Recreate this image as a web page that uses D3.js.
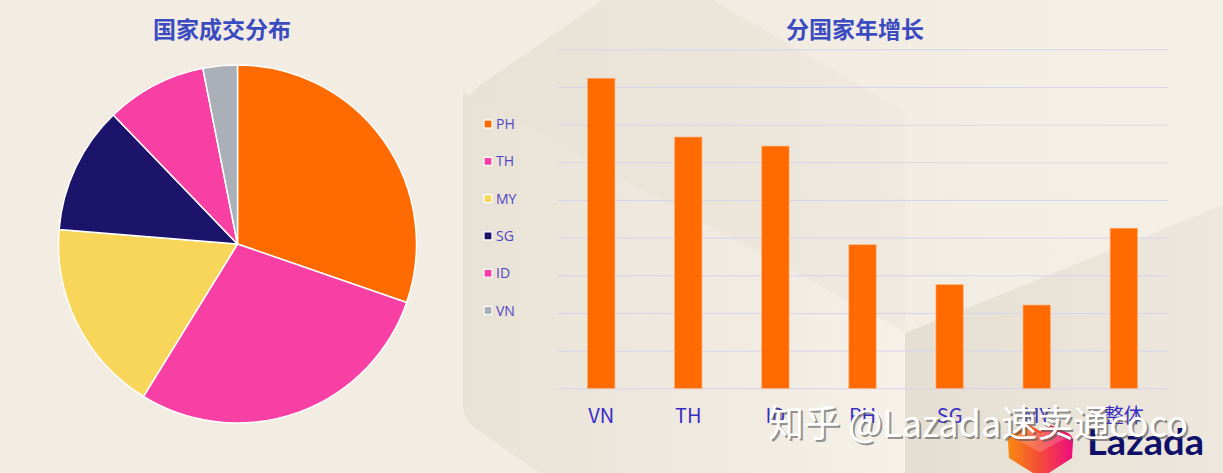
<!DOCTYPE html>
<html>
<head>
<meta charset="utf-8">
<script src="https://cdn.jsdelivr.net/npm/d3@7"></script>
<style>
  html, body { margin: 0; padding: 0; background: #f2ece2; }
  svg { display: block; }
</style>
</head>
<body>
<svg id="chart" width="1223" height="473"></svg>
<script>
// ---------- DATA ----------
const pieCategories = ["PH", "TH", "MY", "SG", "ID", "VN"];
const pieValues = [30.3, 28.5, 17.5, 11.5, 9.1, 3.1];
const pieColors = ["#ff6b00", "#f83fa4", "#f8d65a", "#1c146b", "#f83fa4", "#aab0b8"];

const barCategories = ["VN", "TH", "ID", "PH", "SG", "MY", "整体"];
const barValues = [82.3, 66.7, 64.3, 38.1, 27.5, 22.1, 42.5];
const gridTicks = [0, 10, 20, 30, 40, 50, 60, 70, 80, 90];

const pieTitle = "国家成交分布";
const barTitle = "分国家年增长";
const watermark = "知乎 @Lazada速卖通coco";
const logoText = "Lazada";

// ---------- SETUP ----------
const svg = d3.select("#chart");
const W = 1223, H = 473;
const defs = svg.append("defs");

svg.append("rect").attr("width", W).attr("height", H).attr("fill", "#f2ece2");

function grad(id, stops) {
  const g = defs.append("linearGradient").attr("id", id)
    .attr("gradientUnits", "userSpaceOnUse")
    .attr("x1", stops.x1).attr("x2", stops.x2).attr("y1", 0).attr("y2", 0);
  stops.s.forEach(s => g.append("stop").attr("offset", s[0]).attr("stop-color", s[1]));
}
grad("topGrad", { x1: 700, x2: 1223, s: [[0, "#f1ebe1"], [1, "#f5f0e7"]] });
grad("hexGrad", { x1: 463, x2: 905, s: [[0, "#e8e2d6"], [0.6, "#ebe5da"], [1, "#efe9df"]] });
grad("lightGrad", { x1: 463, x2: 905, s: [[0, "#e8e2d6"], [0.45, "#eee8de"], [1, "#f6f1e8"]] });
grad("rightGrad", { x1: 905, x2: 1223, s: [[0, "#e5dfd3"], [1, "#ede7dd"]] });

svg.append("rect").attr("x", 700).attr("y", 0).attr("width", 523).attr("height", 473).attr("fill", "url(#topGrad)");

// hexagon (darker)
svg.append("path")
  .attr("d", "M463,118 Q463,96 482,84 L603,0 L713,0 L905,112 L905,473 L540,473 L478,430 Q463,420 463,405 Z")
  .attr("fill", "url(#hexGrad)");
// lighter band in hexagon
svg.append("path")
  .attr("d", "M463,92 L905,332 L905,473 L540,473 L478,430 Q463,420 463,405 Z")
  .attr("fill", "url(#lightGrad)");
// darker lower-right
svg.append("path")
  .attr("d", "M905,333 L1223,205 L1223,473 L905,473 Z")
  .attr("fill", "url(#rightGrad)");

// ---------- PIE ----------
const cx = 237.5, cy = 244, R = 179;
const pie = d3.pie().sort(null).value(d => d)(pieValues);
const arc = d3.arc().innerRadius(0).outerRadius(R);
svg.append("g").attr("transform", `translate(${cx},${cy})`)
  .selectAll("path").data(pie).join("path")
  .attr("d", arc)
  .attr("fill", (d, i) => pieColors[i])
  .attr("stroke", "#ffffff")
  .attr("stroke-width", 1.5)
  .attr("stroke-linejoin", "round");

svg.append("text").attr("x", 222).attr("y", 38)
  .attr("text-anchor", "middle")
  .attr("font-family", "'Noto Sans CJK SC', sans-serif")
  .attr("font-weight", 700).attr("font-size", 23)
  .attr("fill", "#3a4bc1")
  .text(pieTitle);

// ---------- BAR ----------
const x = d3.scaleBand().domain(barCategories).range([557.3, 1167.7]).paddingInner(0.687).paddingOuter(0.348);
const y = d3.scaleLinear().domain([0, 90]).range([388.3, 49.3]);

const grid = svg.append("g").attr("transform", "translate(557.3,0)")
  .call(d3.axisLeft(y).tickValues(gridTicks).tickSize(-610.4).tickFormat(""));
grid.select(".domain").remove();
grid.selectAll(".tick line").attr("stroke", "#d7d3ea").attr("stroke-width", 1);

svg.append("g").selectAll("rect").data(barValues).join("rect")
  .attr("x", (d, i) => x(barCategories[i]))
  .attr("y", d => y(d))
  .attr("width", x.bandwidth())
  .attr("height", d => y(0) - y(d))
  .attr("fill", "#ff6b00")
  .attr("stroke", "#ffa866")
  .attr("stroke-width", 0.6);

const xa = svg.append("g").attr("transform", "translate(0,388.3)")
  .call(d3.axisBottom(x).tickSize(0).tickPadding(0));
xa.select(".domain").remove();
xa.selectAll(".tick text")
  .attr("y", 35).attr("dy", 0)
  .attr("font-family", "'Liberation Sans Narrow', 'Noto Sans CJK SC', sans-serif")
  .attr("font-size", 20)
  .attr("fill", "#3a2ec4");

svg.append("text").attr("x", 855).attr("y", 38)
  .attr("text-anchor", "middle")
  .attr("font-family", "'Noto Sans CJK SC', sans-serif")
  .attr("font-weight", 700).attr("font-size", 23)
  .attr("fill", "#3a4bc1")
  .text(barTitle);

// legend
const leg = svg.append("g").selectAll("g").data(pieCategories).join("g")
  .attr("transform", (d, i) => `translate(484,${124 + i * 37.3})`);
leg.append("rect").attr("x", 0).attr("y", -4).attr("width", 8).attr("height", 8)
  .attr("fill", (d, i) => pieColors[i]).attr("stroke", "#ffffff").attr("stroke-width", 1.2);
leg.append("text").attr("x", 12).attr("y", 5)
  .attr("font-family", "'Open Sans', 'Noto Sans', sans-serif")
  .attr("font-size", 14)
  .attr("fill", "#5244c4")
  .text(d => d);

// ---------- LOGO ----------
const lg = defs.append("linearGradient").attr("id", "logoGrad").attr("x1", "0").attr("x2", "1").attr("y1", "0").attr("y2", "0");
lg.append("stop").attr("offset", "0").attr("stop-color", "#f98a10");
lg.append("stop").attr("offset", "0.5").attr("stop-color", "#f44a3a");
lg.append("stop").attr("offset", "1").attr("stop-color", "#ee0b7f");
svg.append("path")
  .attr("d", "M1008,441 Q1008,436 1013,433 L1030,425 L1040,431 L1051,425 L1068,433 Q1073,436 1073,441 L1072,458 L1041,478 L1009,458 Z")
  .attr("fill", "url(#logoGrad)");
svg.append("path")
  .attr("d", "M1012,437 L1030,428 L1040,434 L1050,428 L1068,437 L1040,452 Z")
  .attr("fill", "#ffffff").attr("opacity", 0.18);
svg.append("text").attr("x", 1087).attr("y", 455)
  .attr("font-family", "'Lato', 'Noto Sans', sans-serif")
  .attr("font-weight", 700).attr("font-size", 37)
  .attr("textLength", 117).attr("lengthAdjust", "spacingAndGlyphs")
  .attr("fill", "#0f1069")
  .text(logoText);

// ---------- WATERMARK ----------
const wm = svg.append("g").attr("font-family", "'Noto Sans CJK SC', sans-serif").attr("font-size", 37);
wm.append("text").attr("x", 770).attr("y", 439).attr("fill", "#555555").attr("opacity", 0.6)
  .attr("textLength", 420).attr("lengthAdjust", "spacingAndGlyphs").text(watermark);
wm.append("text").attr("x", 768).attr("y", 437).attr("fill", "#ffffff")
  .attr("textLength", 420).attr("lengthAdjust", "spacingAndGlyphs").text(watermark);
</script>
</body>
</html>
